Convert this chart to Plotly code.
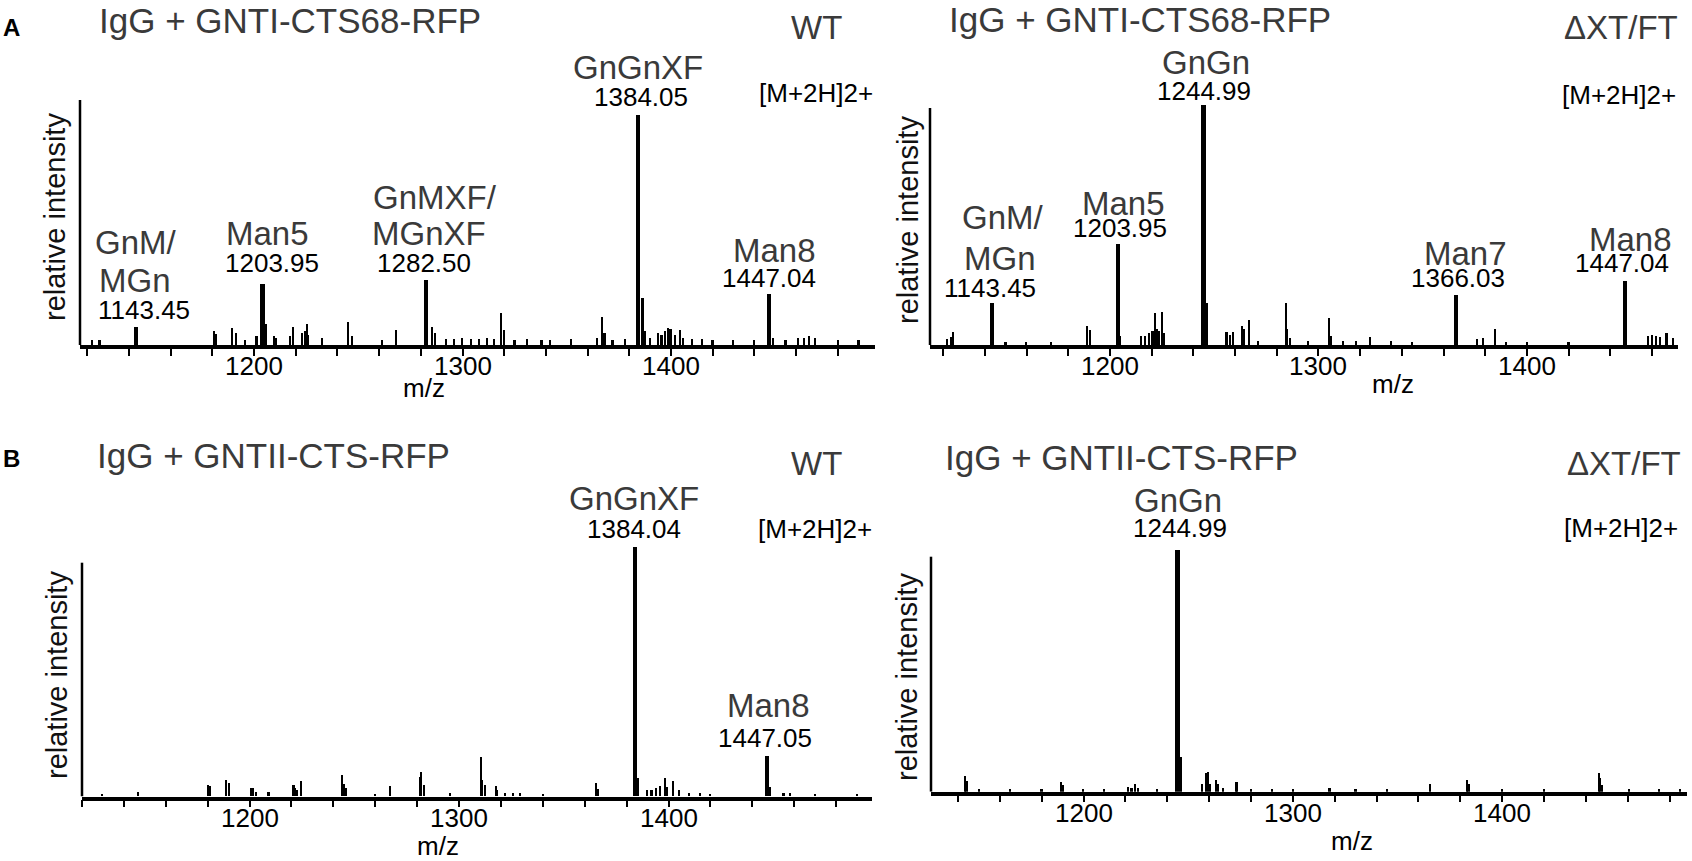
import plotly.graph_objs as go

W, H = 1692, 861

# ---- spectra: m/z and relative intensity (% of the y axis height) ----
# A, WT
a_wt_mz = [1122.4, 1126.0, 1143.45, 1180.8, 1181.6, 1189.5, 1191.4, 1195.7, 1201.3, 1203.95,
           1205.0, 1205.8, 1209.6, 1210.4, 1217.5, 1218.8, 1223.0, 1224.7, 1225.3, 1226.0,
           1232.5, 1245.3, 1247.0, 1261.5, 1268.0, 1282.50, 1285.5, 1287.0, 1292.0, 1296.0,
           1300.0, 1304.0, 1308.0, 1312.0, 1315.0, 1318.6, 1320.0, 1325.0, 1331.0, 1338.0,
           1342.0, 1352.3, 1364.7, 1366.8, 1368.2, 1372.0, 1378.0, 1384.05, 1386.4, 1387.5,
           1390.0, 1393.8, 1395.5, 1397.2, 1398.8, 1399.8, 1402.0, 1404.5, 1406.0, 1410.0,
           1415.0, 1420.0, 1430.0, 1440.0, 1447.04, 1449.0, 1455.0, 1461.0, 1464.0, 1466.4,
           1469.0, 1480.0, 1490.0]
a_wt_int = [2, 2, 7.5, 6, 4.6, 7, 5, 2, 3.8, 25,
            16.7, 8.5, 3.8, 3, 3.8, 7.5, 5, 5.8, 8.6, 4,
            3, 9.5, 3.8, 2, 6.3, 26.5, 7.5, 5, 2.5, 2.5,
            3, 2.5, 2.5, 3, 2.5, 13, 6.3, 2, 2.5, 2,
            2, 2.5, 3, 11.7, 5, 2, 2.5, 94, 19.4, 5.8,
            3, 5, 4, 5.8, 7, 6.5, 4, 6.2, 3, 2.5,
            2.5, 2, 2, 2, 21, 3, 2, 3, 3, 3.8,
            3, 2, 2]

# A, dXT/FT
a_dxt_mz = [1122.0, 1124.0, 1125.0, 1143.45, 1150.0, 1160.0, 1172.0, 1189.0, 1190.5, 1203.95,
            1205.0, 1215.0, 1217.0, 1219.0, 1220.5, 1221.6, 1222.5, 1223.5, 1225.0, 1226.0,
            1244.99, 1246.5, 1256.0, 1257.5, 1259.0, 1263.5, 1264.3, 1266.7, 1271.0, 1284.4,
            1285.2, 1286.5, 1295.0, 1305.0, 1306.0, 1312.0, 1318.0, 1324.7, 1335.0, 1345.0,
            1366.03, 1376.0, 1379.0, 1384.6, 1390.0, 1400.0, 1420.0, 1447.04, 1458.0, 1460.0,
            1462.0, 1464.0, 1467.0, 1470.0]
a_dxt_int = [2.5, 3.5, 5.6, 17.7, 1.5, 1.5, 1.5, 8, 6.3, 42.6,
             4, 4, 4, 5, 6, 13.5, 7, 6, 14, 5,
             101.3, 17.7, 5.5, 4.5, 5.5, 8, 7, 10.5, 2, 17.7,
             7, 3, 2, 11.4, 4, 2, 2, 3.4, 2, 1.5,
             21.1, 2.5, 3, 6.7, 1.5, 1.5, 1.5, 27, 4, 4.5,
             4, 3.5, 5, 3]

# B, WT
b_wt_mz = [1129.6, 1146.9, 1180.4, 1181.2, 1188.9, 1190.3, 1200.7, 1201.6, 1203.2, 1209.1,
           1221.1, 1221.9, 1222.7, 1224.6, 1244.2, 1245.3, 1246.3, 1260.0, 1267.0, 1281.3,
           1282.0, 1283.3, 1295.7, 1310.4, 1311.2, 1312.3, 1317.6, 1318.4, 1322.0, 1326.0,
           1329.0, 1340.0, 1365.5, 1366.5, 1384.04, 1385.5, 1390.0, 1392.0, 1394.3, 1395.9,
           1398.3, 1399.5, 1402.2, 1405.0, 1410.0, 1415.0, 1420.0, 1447.05, 1448.5, 1455.0,
           1458.0, 1470.0, 1490.0]
b_wt_int = [1.1, 1.7, 5, 4.3, 7.1, 5.7, 3.7, 3.7, 1.9, 1.9,
            4.7, 3.7, 2.5, 6.4, 9, 5.4, 3.5, 1, 4.4, 8.3,
            10.4, 4.7, 1.4, 16.9, 7.1, 4.7, 4.4, 2.6, 1.5, 1.5,
            1.2, 1, 5.7, 3, 106.8, 7.8, 2.5, 2.5, 3.5, 4.3,
            7.8, 4, 6.4, 2.5, 1.5, 1.5, 1, 17.1, 4, 1.5,
            1.5, 1, 1]

# B, dXT/FT
b_dxt_mz = [1143.4, 1144.2, 1150.0, 1165.0, 1180.0, 1189.2, 1190.4, 1200.0, 1210.0, 1221.5,
            1223.0, 1224.7, 1226.0, 1235.0, 1244.99, 1246.6, 1256.5, 1258.6, 1259.4, 1260.4,
            1263.3, 1264.4, 1266.6, 1272.9, 1273.5, 1280.0, 1290.0, 1300.0, 1317.6, 1330.0,
            1345.0, 1365.7, 1383.3, 1384.0, 1400.0, 1420.0, 1446.3, 1447.0, 1447.8, 1460.8,
            1475.0, 1485.0]
b_dxt_int = [6.8, 4.7, 1, 1, 1, 4.3, 2.8, 1, 1, 2.1,
             1.5, 3.5, 1.5, 1, 103, 14.6, 3.5, 8.1, 8.2, 3.5,
             5, 3.5, 1.5, 4.3, 4.3, 1, 1, 1, 1.8, 1,
             1, 3.3, 5, 3.5, 1, 1, 7.8, 5.7, 2.8, 1,
             1, 1]

# labelled peaks
a_wt_peaks = [1143.45, 1203.95, 1282.50, 1384.05, 1447.04]
a_wt_names = [["GnM/", "MGn"], ["Man5"], ["GnMXF/", "MGnXF"], ["GnGnXF"], ["Man8"]]
a_wt_vals = ["1143.45", "1203.95", "1282.50", "1384.05", "1447.04"]

a_dxt_peaks = [1143.45, 1203.95, 1244.99, 1366.03, 1447.04]
a_dxt_names = [["GnM/", "MGn"], ["Man5"], ["GnGn"], ["Man7"], ["Man8"]]
a_dxt_vals = ["1143.45", "1203.95", "1244.99", "1366.03", "1447.04"]

b_wt_peaks = [1384.04, 1447.05]
b_wt_names = [["GnGnXF"], ["Man8"]]
b_wt_vals = ["1384.04", "1447.05"]

b_dxt_peaks = [1244.99]
b_dxt_names = [["GnGn"]]
b_dxt_vals = ["1244.99"]

FONT = "Liberation Sans, Arial, sans-serif"
GREY = "#3a3a3a"


def py(y):
    return 1 - y / H


def px(x):
    return x / W


# panel geometry in pixels, label placement (pixel y of each line, x shift)
panels = [
    dict(mz=a_wt_mz, it=a_wt_int, peaks=a_wt_peaks, names=a_wt_names, vals=a_wt_vals,
         rng=(1116.5, 1497.8), xpx=(80, 875), base=345, top=100,
         name_y=[[242, 280], [233], [197, 233], [67], [250]],
         name_dx=[[0, -1], [5], [9, 3], [0], [5]],
         val_y=[310, 263, 263, 97, 278], val_dx=[8, 10, -2, 3, 0],
         title="IgG + GNTI-CTS68-RFP", tx=97, ty=20, tag="WT", tagx=844, tagy=28,
         ion_x=875, ion_y=93, ri=(55, 217), mzl=(424, 388)),
    dict(mz=a_dxt_mz, it=a_dxt_int, peaks=a_dxt_peaks, names=a_dxt_names, vals=a_dxt_vals,
         rng=(1113.7, 1472.4), xpx=(930, 1678), base=345, top=108,
         name_y=[[218, 258], [203], [63], [253], [240]],
         name_dx=[[11, 8], [5], [2], [9], [5]],
         val_y=[288, 228, 91, 278, 263], val_dx=[-2, 2, 0, 2, -3],
         title="IgG + GNTI-CTS68-RFP", tx=947, ty=19, tag="ΔXT/FT", tagx=1680, tagy=28,
         ion_x=1678, ion_y=95, ri=(908, 220), mzl=(1393, 384)),
    dict(mz=b_wt_mz, it=b_wt_int, peaks=b_wt_peaks, names=b_wt_names, vals=b_wt_vals,
         rng=(1120.0, 1497.1), xpx=(82, 872), base=796.5, top=562.7,
         name_y=[[498], [705]], name_dx=[[-1], [1]],
         val_y=[529, 738], val_dx=[-1, -2],
         title="IgG + GNTII-CTS-RFP", tx=95, ty=455, tag="WT", tagx=844, tagy=463,
         ion_x=874, ion_y=529, ri=(57, 675), mzl=(438, 846)),
    dict(mz=b_dxt_mz, it=b_dxt_int, peaks=b_dxt_peaks, names=b_dxt_names, vals=b_dxt_vals,
         rng=(1127.1, 1488.3), xpx=(931, 1687), base=791.7, top=556.7,
         name_y=[[500]], name_dx=[[0]],
         val_y=[528], val_dx=[2],
         title="IgG + GNTII-CTS-RFP", tx=943, ty=457, tag="ΔXT/FT", tagx=1683, tagy=463,
         ion_x=1680, ion_y=528, ri=(907, 677), mzl=(1352, 841)),
]

YMAX = 125  # y range; the drawn y axis only goes up to 100

fig = go.Figure()
annotations = []
shapes = []
layout = {}

for i, p in enumerate(panels, start=1):
    xa = "x" if i == 1 else f"x{i}"
    ya = "y" if i == 1 else f"y{i}"
    big = set(p["peaks"])
    widths = [2.2 if m in big else 0.8 for m in p["mz"]]

    fig.add_trace(go.Bar(x=p["mz"], y=p["it"], width=widths, xaxis=xa, yaxis=ya,
                         marker=dict(color="black", line=dict(width=0)),
                         showlegend=False, hoverinfo="x+y"))

    lo, hi = p["rng"]
    ticks = [t for t in range(1100, 1520, 20) if lo <= t <= hi]
    span = (p["base"] - p["top"]) * YMAX / 100
    layout["xaxis" if i == 1 else f"xaxis{i}"] = dict(
        domain=[px(p["xpx"][0]), px(p["xpx"][1])], range=[lo, hi], anchor=ya,
        showline=True, linewidth=3.5, linecolor="black", mirror=False,
        ticks="outside", ticklen=7, tickwidth=1.5, tickcolor="black",
        tickvals=ticks, ticktext=[""] * len(ticks),
        showgrid=False, zeroline=False, fixedrange=True)
    layout["yaxis" if i == 1 else f"yaxis{i}"] = dict(
        domain=[py(p["base"]), py(p["base"] - span)], range=[0, YMAX], anchor=xa,
        visible=False, fixedrange=True)

    # tick labels at the hundreds, placed on the data scale
    for t in ticks:
        if t % 100 == 0:
            annotations.append(dict(x=t, xref=xa, y=py(p["base"] + 21), yref="paper",
                                    text=str(t), showarrow=False, xanchor="center",
                                    yanchor="middle",
                                    font=dict(family=FONT, size=26, color="black")))

    # y axis line
    shapes.append(dict(type="line", xref=f"{xa} domain", yref=ya, x0=0, x1=0, y0=0, y1=100,
                       line=dict(color="black", width=2.5)))

    # peak labels
    for pk, lines, ys, dxs, val, vy, vdx in zip(p["peaks"], p["names"], p["name_y"], p["name_dx"],
                                              p["vals"], p["val_y"], p["val_dx"]):
        for txt, yy, dx in zip(lines, ys, dxs):
            annotations.append(dict(x=pk, xref=xa, y=py(yy), yref="paper", text=txt,
                                    showarrow=False, xshift=dx, xanchor="center", yanchor="middle",
                                    font=dict(family=FONT, size=33, color=GREY)))
        annotations.append(dict(x=pk, xref=xa, y=py(vy), yref="paper", text=val,
                                showarrow=False, xshift=vdx, xanchor="center", yanchor="middle",
                                font=dict(family=FONT, size=26, color="black")))

    # panel texts
    annotations.append(dict(x=px(p["tx"]), y=py(p["ty"]), xref="paper", yref="paper",
                            text=p["title"], showarrow=False, xanchor="left", yanchor="middle",
                            font=dict(family=FONT, size=35, color=GREY)))
    annotations.append(dict(x=px(p["tagx"]), y=py(p["tagy"]), xref="paper", yref="paper",
                            text=p["tag"], showarrow=False, xanchor="right", yanchor="middle",
                            font=dict(family=FONT, size=33, color=GREY)))
    annotations.append(dict(x=px(p["ion_x"]), y=py(p["ion_y"]), xref="paper", yref="paper",
                            text="[M+2H]2+", showarrow=False, xanchor="right", yanchor="middle",
                            font=dict(family=FONT, size=26, color="black")))
    annotations.append(dict(x=px(p["ri"][0]), y=py(p["ri"][1]), xref="paper", yref="paper",
                            text="relative intensity", textangle=-90, showarrow=False,
                            xanchor="center", yanchor="middle",
                            font=dict(family=FONT, size=29, color="#111111")))
    annotations.append(dict(x=px(p["mzl"][0]), y=py(p["mzl"][1]), xref="paper", yref="paper",
                            text="m/z", showarrow=False, xanchor="center", yanchor="middle",
                            font=dict(family=FONT, size=26, color="black")))

# panel letters
for letter, (lx, ly) in [("A", (11, 28)), ("B", (11, 459))]:
    annotations.append(dict(x=px(lx), y=py(ly), xref="paper", yref="paper", text=f"<b>{letter}</b>",
                            showarrow=False, xanchor="center", yanchor="middle",
                            font=dict(family=FONT, size=24, color="black")))

fig.update_layout(width=W, height=H, margin=dict(l=0, r=0, t=0, b=0),
                  paper_bgcolor="white", plot_bgcolor="white",
                  barmode="overlay", bargap=0, showlegend=False,
                  annotations=annotations, shapes=shapes, **layout)

# drop the browser's default body margin so the figure sits at the page corner
fig.write_html("out.html", config={"displayModeBar": False},
               post_script="document.body.style.margin = '0';")
